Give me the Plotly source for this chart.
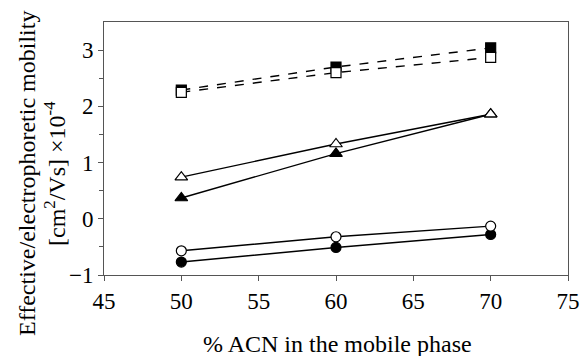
import plotly.graph_objects as go

acn = [50, 60, 70]
sq_filled = [2.29, 2.70, 3.04]
sq_open = [2.25, 2.60, 2.87]
tri_open = [0.74, 1.33, 1.86]
tri_filled = [0.37, 1.16, 1.86]
circ_open = [-0.57, -0.32, -0.13]
circ_filled = [-0.77, -0.51, -0.28]

x_ticks = [45, 50, 55, 60, 65, 70, 75]
y_ticks = [-1, 0, 1, 2, 3]

series = [
    (sq_filled, "square", "black", "dash"),
    (sq_open, "square", "white", "dash"),
    (tri_filled, "triangle-up", "black", "solid"),
    (tri_open, "triangle-up", "white", "solid"),
    (circ_filled, "circle", "black", "solid"),
    (circ_open, "circle", "white", "solid"),
]

fig = go.Figure()
for ys, sym, fill, dash in series:
    fig.add_trace(go.Scatter(
        x=acn, y=ys, mode="lines+markers",
        line=dict(color="black", width=1.4, dash=dash),
        marker=dict(symbol=sym, size=10 if sym != "triangle-up" else 11,
                    color=fill, line=dict(color="black", width=1.2)),
        showlegend=False,
    ))

font = "Liberation Serif, Times New Roman, serif"
L, R, T, B = 104, 19, 22, 81
W, H = 587, 356
pw = W - L - R
ph = H - T - B
fig.update_layout(
    width=W, height=H,
    margin=dict(l=L, r=R, t=T, b=B),
    paper_bgcolor="white", plot_bgcolor="white",
    font=dict(family=font, size=24, color="black"),
    xaxis=dict(range=[45, 75], tickvals=x_ticks, ticks="outside", ticklen=5,
               tickcolor="#555", showline=True, linecolor="#555", linewidth=1,
               mirror=True, showgrid=False, zeroline=False, automargin=False,
               tickfont=dict(size=23), ticklabelstandoff=0),
    yaxis=dict(range=[-1, 3.5], tickvals=y_ticks, ticks="outside", ticklen=5,
               tickcolor="#555", showline=True, linecolor="#555", linewidth=1,
               mirror=True, showgrid=False, zeroline=False, automargin=False,
               tickfont=dict(size=23),
               minor=dict(tickvals=[-0.5, 0.5, 1.5, 2.5], ticks="outside", ticklen=4, tickcolor="#555")),
)
ytitle_lines = ["Effective/electrophoretic mobility", "[cm<sup>2</sup>/Vs] ×10<sup>-4</sup>"]
for txt, px in zip(ytitle_lines, [27, 55]):
    fig.add_annotation(
        text=txt, xref="paper", yref="paper", x=(px - L) / pw, y=(H - B - 174) / ph,
        xanchor="center", yanchor="middle", textangle=-90, showarrow=False,
        font=dict(family=font, size=24),
    )
fig.add_annotation(
    text="% ACN in the mobile phase", xref="paper", yref="paper",
    x=(337 - L) / pw, y=(H - B - 344) / ph, xanchor="center", yanchor="middle",
    showarrow=False, font=dict(family=font, size=24),
)
fig.write_html("out.html")
